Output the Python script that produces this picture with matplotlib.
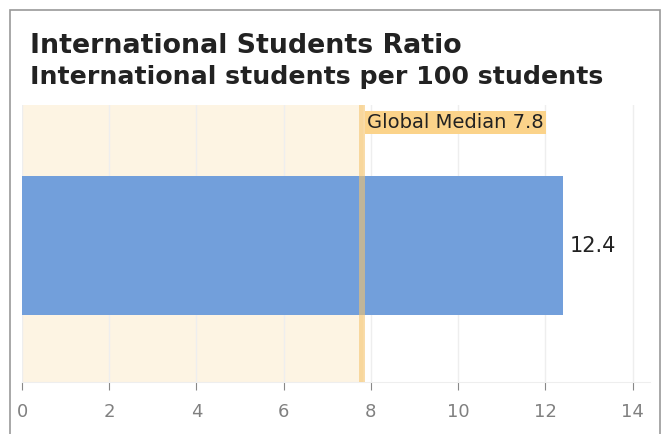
import matplotlib.pyplot as plt
from matplotlib.patches import Rectangle

# data
categories = ["International Students Ratio"]
values = [12.4]
global_median = 7.8
xticks = [0, 2, 4, 6, 8, 10, 12, 14]

fig = plt.figure(figsize=(6.62, 4.34), dpi=100)
ax = fig.add_axes([22 / 662, 1 - 382 / 434, 628 / 662, 277 / 434])

# shaded band up to the global median
ax.axvspan(0, global_median, color="#fdf4e3", zorder=0)
ax.barh(categories, values, height=0.51, color="#729fdb", zorder=2)
ax.axvline(global_median, color="#f5c46e", lw=4.3, alpha=0.6, zorder=3)

ax.text(values[0] + 0.15, 0, f"{values[0]}", va="center", ha="left",
        fontsize=15, color="#222222")
ax.text(global_median + 0.12, 0.97, f"Global Median {global_median}",
        transform=ax.get_xaxis_transform(), va="top", ha="left",
        fontsize=14, color="#222222",
        bbox=dict(facecolor="#fbd38a", edgecolor="none", pad=1.5))

ax.set_xlim(0, 14.4)
ax.set_ylim(-0.5, 0.515)
ax.set_xticks(xticks)
ax.set_yticks([])
ax.grid(axis="x", color="#eeeeee", lw=1, zorder=1)
ax.set_axisbelow(True)
for s in ["top", "right", "left"]:
    ax.spines[s].set_visible(False)
ax.spines["bottom"].set_color("#eeeeee")
ax.tick_params(axis="x", colors="#888888", labelsize=13, length=6, pad=9)
for t in ax.get_xticklabels():
    t.set_color("#808080")

fig.text(30 / 662, 1 - 46 / 434, "International Students Ratio",
         fontsize=19.3, fontweight="bold", color="#222222", va="center")
fig.text(30 / 662, 1 - 77 / 434, "International students per 100 students",
         fontsize=18.2, fontweight="bold", color="#222222", va="center")

# outer frame
fig.patches.append(Rectangle((10 / 662, -0.05), 650 / 662, 1.05 - 10 / 434,
                             transform=fig.transFigure, fill=False,
                             edgecolor="#999999", lw=1.2))

fig.savefig("out.png", dpi=100)
